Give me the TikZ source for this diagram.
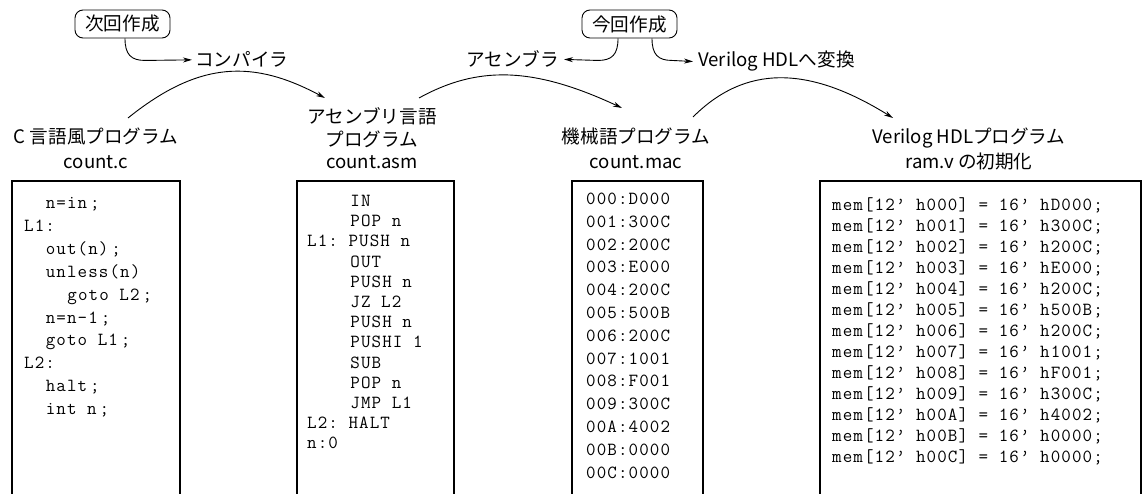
\documentclass[tikz,border=0pt]{standalone}
\usepackage{fontspec}
\setmainfont{Noto Sans CJK JP}
\setmonofont{Latin Modern Mono}[LetterSpace=5.9]
\usetikzlibrary{arrows.meta}
\newcommand\semi{\kern3pt;}
\tikzset{
  lbl/.style={font=\fontsize{18.6}{20}\selectfont, inner sep=0pt, anchor=base},
  code/.style={font=\ttfamily\fontsize{18.5}{20}\selectfont, inner sep=0pt, anchor=base west},
  bubble/.style={draw, line width=0.9pt, rounded corners=8pt, minimum width=95pt, minimum height=28pt, inner sep=0pt, font=\fontsize{18.6}{20}\selectfont},
  arr/.style={line width=0.9pt, -{Stealth[length=9pt,width=5pt]}},
  frame/.style={line width=1.6pt},
}
\begin{document}
\begin{tikzpicture}[x=1pt,y=-1pt]
\useasboundingbox (0,0) rectangle (1145,494);

% bubbles and top labels
\node[bubble] (b1) at (122.5,24) {次回作成};
\node[bubble] (b2) at (629.5,24) {今回作成};
\node[lbl, anchor=base west] (comp) at (195,67) {コンパイラ};
\node[lbl, anchor=base east] (asmb) at (559,67) {アセンブラ};
\node[lbl, anchor=base west] (conv) at (698,67) {Verilog HDLへ変換};

\draw[arr] ([xshift=2.5pt]b1.south) .. controls +(0,16) and +(-14,0) .. ++(20,22) -- ([xshift=-3pt]comp.west);
\draw[arr] ([xshift=-11.5pt]b2.south) .. controls +(0,16) and +(14,0) .. ++(-20,22) -- ([xshift=5pt]asmb.east);
\draw[arr] ([xshift=22.5pt]b2.south) .. controls +(0,16) and +(-14,0) .. ++(20,22) -- ([xshift=-5pt]conv.west);

% program labels
\node[lbl] (c1) at (96,144) {C 言語風プログラム};
\node[lbl] (c2) at (96,169) {count.c};
\node[lbl] (a1) at (372,124) {アセンブリ言語};
\node[lbl] (a2) at (372,147) {プログラム};
\node[lbl] (a3) at (372,169) {count.asm};
\node[lbl] (m1) at (636,144) {機械語プログラム};
\node[lbl] (m2) at (636,169) {count.mac};
\node[lbl] (v1) at (969,144) {Verilog HDLプログラム};
\node[lbl] (v2) at (969,169) {ram.v の初期化};

% arcs
\coordinate (s1) at (128,118); \coordinate (e1) at (325,98);
\coordinate (s2) at (419,98);  \coordinate (e2) at (622,108);
\coordinate (s3) at (693,117); \coordinate (e3) at (893,118);
\draw[arr] (s1) .. controls (200,60) and (254,60) .. (e1);
\draw[arr] (s2) .. controls (477,66) and (532,66) .. (e2);
\draw[arr] (s3) .. controls (745,65) and (808,65) .. (e3);

% frames (open at the bottom)
\draw[frame] (12,494) -- (12,181) -- (180,181) -- (180,494);
\draw[frame] (297,494) -- (297,181) -- (454,181) -- (454,494);
\draw[frame] (572,494) -- (572,181) -- (703,181) -- (703,494);
\draw[frame] (820,494) -- (820,181) -- (1141,181) -- (1141,494);

% code listings
\foreach \c/\t [count=\i] in {2/n=in\semi, 0/L1:, 2/out(n)\semi, 2/unless(n), 4/goto L2\semi, 2/n=n-1\semi, 2/goto L1\semi, 0/L2:, 2/halt\semi, 2/int n\semi}
  \node[code] (p\i) at ({24+10.8*\c},{208.5+22.9*(\i-1)}) {\t};

\foreach \c/\t [count=\i] in {4/IN, 4/POP n, 0/L1: PUSH n, 4/OUT, 4/PUSH n, 4/JZ L2, 4/PUSH n, 4/PUSHI 1, 4/SUB, 4/POP n, 4/JMP L1, 0/L2: HALT, 0/n:0}
  \node[code] (q\i) at ({307+10.8*\c},{206.5+20.2*(\i-1)}) {\t};

\foreach \t [count=\i] in {000:D000, 001:300C, 002:200C, 003:E000, 004:200C, 005:500B, 006:200C, 007:1001, 008:F001, 009:300C, 00A:4002, 00B:0000, 00C:0000}
  \node[code] (r\i) at (586,{204.5+22.8*(\i-1)}) {\t};

\foreach \t [count=\i] in {{mem[12’ h000] = 16’ hD000;}, {mem[12’ h001] = 16’ h300C;}, {mem[12’ h002] = 16’ h200C;}, {mem[12’ h003] = 16’ hE000;}, {mem[12’ h004] = 16’ h200C;}, {mem[12’ h005] = 16’ h500B;}, {mem[12’ h006] = 16’ h200C;}, {mem[12’ h007] = 16’ h1001;}, {mem[12’ h008] = 16’ hF001;}, {mem[12’ h009] = 16’ h300C;}, {mem[12’ h00A] = 16’ h4002;}, {mem[12’ h00B] = 16’ h0000;}, {mem[12’ h00C] = 16’ h0000;}}
  \node[code] (w\i) at (832,{210.5+21*(\i-1)}) {\t};
\end{tikzpicture}
\end{document}
